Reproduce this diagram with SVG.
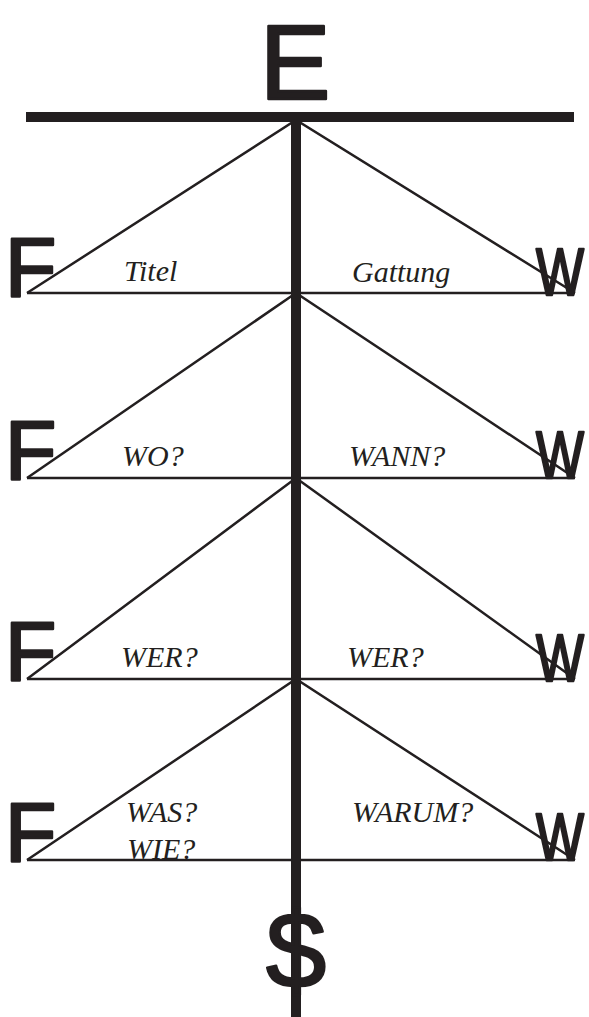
<svg xmlns="http://www.w3.org/2000/svg" width="589" height="1017" viewBox="0 0 589 1017">
<style>
.big{font-family:"Liberation Sans","DejaVu Sans",sans-serif;fill:#231f20;stroke:#231f20;stroke-width:2.5;stroke-linejoin:round;stroke-linecap:round}
.w{font-size:66px}
.lbl{font-family:"Liberation Serif","Times New Roman",serif;font-style:italic;font-size:30px;fill:#231f20}
.thin{stroke:#231f20;stroke-width:2.5;fill:none}
.thick{stroke:#231f20;stroke-width:10;fill:none}
</style>
<rect width="589" height="1017" fill="#fff"/>
<g id="connectors">
  <line class="thick" x1="26" y1="117" x2="574" y2="117"/>
  <line class="thin" x1="27" y1="293" x2="575" y2="293"/>
  <line class="thin" x1="27" y1="478" x2="575" y2="478"/>
  <line class="thin" x1="27" y1="679" x2="575" y2="679"/>
  <line class="thin" x1="27" y1="860" x2="575" y2="860"/>
  <polyline class="thin" points="27,293 296,120 575,293"/>
  <polyline class="thin" points="27,478 296,293 575,478"/>
  <polyline class="thin" points="27,679 296,478 575,679"/>
  <polyline class="thin" points="27,860 296,679 575,860"/>
  <line class="thick" x1="296" y1="112" x2="296" y2="1017"/>
</g>
<g id="top-E"><text class="big" x="295" y="99" font-size="106" text-anchor="middle">E</text></g>
<g id="bottom-dollar"><text class="big" x="296" y="988" font-size="108" text-anchor="middle">$</text></g>
<g id="row1">
  <text class="big" x="5" y="296" font-size="84">F</text>
  <text class="big w" transform="translate(536,295) scale(0.77,1)">W</text>
  <text class="lbl" x="124" y="281">Titel</text>
  <text class="lbl" x="352" y="282">Gattung</text>
</g>
<g id="row2">
  <text class="big" x="5" y="479" font-size="84">F</text>
  <text class="big w" transform="translate(536,478) scale(0.77,1)">W</text>
  <text class="lbl" x="122" y="466">WO?</text>
  <text class="lbl" x="349" y="466">WANN?</text>
</g>
<g id="row3">
  <text class="big" x="5" y="680" font-size="84">F</text>
  <text class="big w" transform="translate(536,681) scale(0.77,1)">W</text>
  <text class="lbl" x="121" y="667">WER?</text>
  <text class="lbl" x="347" y="667">WER?</text>
</g>
<g id="row4">
  <text class="big" x="5" y="861" font-size="84">F</text>
  <text class="big w" transform="translate(536,860) scale(0.77,1)">W</text>
  <text class="lbl" x="126" y="822">WAS?</text>
  <text class="lbl" x="127" y="859">WIE?</text>
  <text class="lbl" x="352" y="822">WARUM?</text>
</g>
</svg>
